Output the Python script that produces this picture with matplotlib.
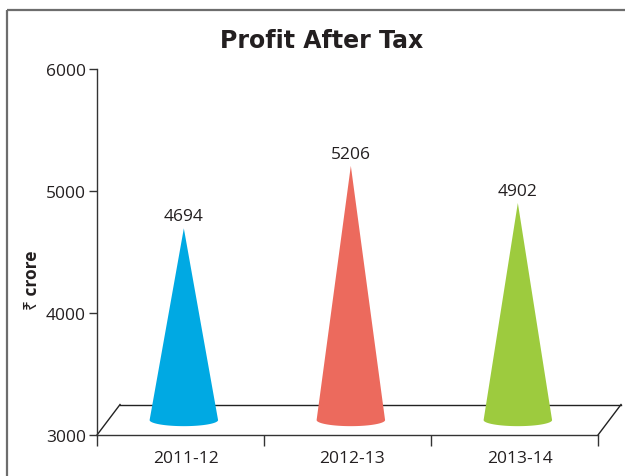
import numpy as np
import matplotlib
matplotlib.use('Agg')
import matplotlib.pyplot as plt
from matplotlib.patches import Polygon
from matplotlib.lines import Line2D
import matplotlib.transforms as mtransforms

# ---- data ----
categories = ['2011-12', '2012-13', '2013-14']
profit = [4694, 5206, 4902]
colors = ['#00A9E3', '#EC6A5D', '#9DCB3E']
yticks = [3000, 4000, 5000, 6000]
title = 'Profit After Tax'
ylabel = '₹ crore'

plt.rcParams['font.family'] = ['Open Sans', 'Noto Sans', 'DejaVu Sans']

W, H = 625, 477
fig = plt.figure(figsize=(W / 100, H / 100), dpi=100)
ax = fig.add_axes([97 / W, 41 / H, 501 / W, 366 / H])
ax.set_xlim(-0.5, 2.5)
ax.set_ylim(3000, 6000)
ax.patch.set_alpha(0)

axcol = '#333333'
for s in ['top', 'right']:
    ax.spines[s].set_visible(False)
for s in ['left', 'bottom']:
    ax.spines[s].set_color(axcol)
    ax.spines[s].set_linewidth(1.0)

# floor (3D base plane)
dx, dy = 0.138, 250
x0, x1 = -0.5, 2.5
yb = 3000
floor_kw = dict(color='#222222', lw=1.0, clip_on=False, zorder=1)
ax.plot([x0 + dx, x1 + dx], [yb + dy, yb + dy], **floor_kw)
ax.plot([x0, x0 + dx], [yb, yb + dy], **floor_kw)
ax.plot([x1, x1 + dx], [yb, yb + dy], **floor_kw)

# cones
half_w = 0.205
base_y = yb + dy * 0.49
ell_h = 50
t = np.linspace(np.pi, 2 * np.pi, 60)
for i, (v, c) in enumerate(zip(profit, colors)):
    cx = i + 0.02
    ex = cx + half_w * np.cos(t)
    ey = base_y + ell_h * np.sin(t)
    pts = [(cx, v)] + list(zip(ex, ey))
    ax.add_patch(Polygon(pts, closed=True, facecolor=c, edgecolor='none', zorder=3))
    ax.annotate(str(v), (cx, v), xytext=(0, 6), textcoords='offset points',
                ha='center', va='baseline', fontsize=12.5, color='#231f20', zorder=4)

# ticks
ax.set_yticks(yticks)
ax.set_yticklabels([str(y) for y in yticks])
ax.tick_params(axis='y', direction='out', length=6, width=1.0, color=axcol,
               labelsize=12.5, pad=2, labelcolor='#231f20')
ax.set_xticks([-0.5, 0.5, 1.5, 2.5])
ax.set_xticklabels([])
ax.tick_params(axis='x', which='major', direction='out', length=8, width=1.0, color=axcol)
ax.set_xticks(range(len(categories)), minor=True)
ax.set_xticklabels(categories, minor=True)
ax.tick_params(axis='x', which='minor', length=0, labelsize=12.5, pad=11, labelcolor='#231f20')
offset = mtransforms.ScaledTranslation(5 / 100, 0, fig.dpi_scale_trans)
for lab in ax.get_xticklabels(minor=True):
    lab.set_transform(lab.get_transform() + offset)

# title and y label
fig.text(322 / W, 1 - 41 / H, title, ha='center', va='center',
         fontsize=17, fontweight='bold', color='#231f20', family=['DejaVu Sans'])
fig.text(32 / W, 1 - 280 / H, ylabel, ha='center', va='center', rotation=90,
         fontsize=12.5, fontweight='bold', color='#231f20')

# frame around figure (left and top only visible)
bc = '#6d6d6d'
fig.add_artist(Line2D([7 / W, 7 / W], [0, 1 - 11 / H], color=bc, lw=1.6,
                      solid_capstyle='butt'))
fig.add_artist(Line2D([7 / W, 1.01], [1 - 11 / H, 1 - 11 / H], color=bc, lw=1.6,
                      solid_capstyle='butt'))

fig.savefig('out.png', dpi=100)
